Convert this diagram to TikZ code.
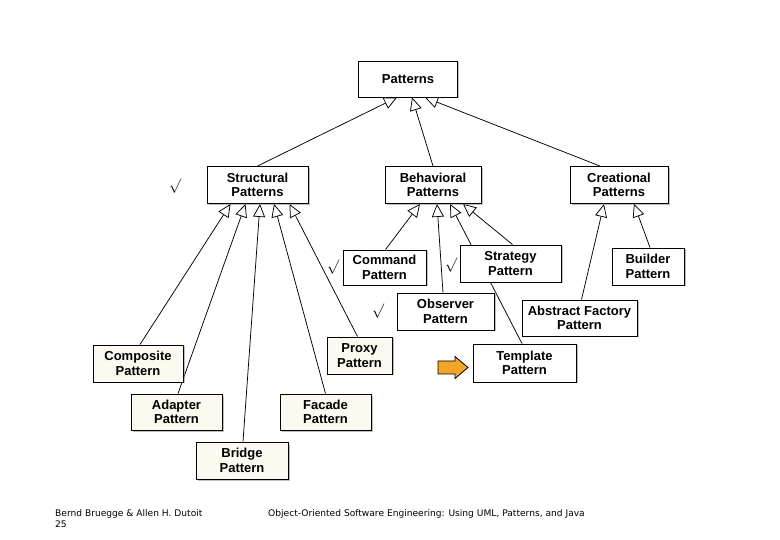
\documentclass[tikz,border=0pt]{standalone}
\usepackage{fontspec}
\setmainfont{Liberation Sans}
\newfontfamily\footfont{DejaVu Sans}
\usetikzlibrary{arrows.meta,shadows}
\definecolor{cream}{HTML}{FCF9F1}
\definecolor{hintorange}{HTML}{F2A527}
\pgfdeclarelayer{bg}
\pgfsetlayers{bg,main}
\tikzset{
    pbox/.style={draw, line width=0.9pt, fill=white, align=center, inner sep=0pt,
        font=\bfseries\fontsize{13}{14.5}\selectfont,
        drop shadow={shadow xshift=1.5pt, shadow yshift=-1.5pt, opacity=0.5}},
    cbox/.style={pbox, fill=cream},
    inh/.style={line width=0.75pt, -{Triangle[length=13pt, width=12pt, fill=white]}},
    tick/.style={font=\fontsize{14}{14}\selectfont}
}

\begin{document}
\begin{tikzpicture}[x=1pt, y=-1pt]
\useasboundingbox (0,0) rectangle (780,540);

% root and the three groups
\node[pbox, minimum width=99pt, minimum height=36pt] (pat) at (408,79) {Patterns};
\node[pbox, minimum width=101pt, minimum height=37pt] (struct) at (257.5,185) {Structural\\Patterns};
\node[pbox, minimum width=96pt, minimum height=37pt] (behav) at (433,185) {Behavioral\\Patterns};
\node[pbox, minimum width=98pt, minimum height=37pt] (creat) at (619,185) {Creational\\Patterns};

% behavioral and creational patterns
\node[pbox, minimum width=83pt, minimum height=35pt] (command) at (384.5,267.5) {Command\\Pattern};
\node[pbox, minimum width=101pt, minimum height=37pt] (strategy) at (510.5,263.5) {Strategy\\Pattern};
\node[pbox, minimum width=97pt, minimum height=37pt] (observer) at (445.5,311.5) {Observer\\Pattern};
\node[pbox, minimum width=103pt, minimum height=38pt] (template) at (524.5,363) {Template\\Pattern};
\node[pbox, minimum width=72pt, minimum height=37pt] (builder) at (648,266.5) {Builder\\Pattern};
\node[pbox, minimum width=115pt, minimum height=36pt] (absfact) at (579.5,318) {Abstract Factory\\Pattern};

% structural patterns
\node[cbox, minimum width=90pt, minimum height=37pt] (composite) at (138,363.5) {Composite\\Pattern};
\node[cbox, minimum width=91pt, minimum height=36pt] (adapter) at (176.5,412) {Adapter\\Pattern};
\node[cbox, minimum width=92pt, minimum height=37pt] (bridge) at (242,460.5) {Bridge\\Pattern};
\node[cbox, minimum width=91pt, minimum height=36pt] (facade) at (325.5,412) {Facade\\Pattern};
\node[cbox, minimum width=65pt, minimum height=37pt] (proxy) at (359.5,355.5) {Proxy\\Pattern};

\begin{pgfonlayer}{bg}
% to Patterns
\draw[inh] (struct.north) -- ([xshift=-11pt]pat.south);
\draw[inh] (behav.north) -- ([xshift=4pt]pat.south);
\draw[inh] ([xshift=-19pt]creat.north) -- ([xshift=17pt]pat.south);

% to Structural Patterns
\draw[inh] ([xshift=2pt]composite.north) -- ([xshift=-27pt]struct.south);
\draw[inh] ([xshift=1.5pt]adapter.north) -- ([xshift=-12pt]struct.south);
\draw[inh] ([xshift=1pt]bridge.north) -- ([xshift=2.5pt]struct.south);
\draw[inh] (facade.north) -- ([xshift=16.5pt]struct.south);
\draw[inh] ([xshift=-2pt]proxy.north) -- ([xshift=32pt]struct.south);

% to Behavioral Patterns
\draw[inh] ([xshift=1pt]command.north) -- ([xshift=-13pt]behav.south);
\draw[inh] ([xshift=-2.5pt]observer.north) -- ([xshift=4pt]behav.south);
\draw[inh] ([xshift=-2.5pt]template.north) -- ([xshift=17pt]behav.south);
\draw[inh] ([xshift=2pt]strategy.north) -- ([xshift=30pt]behav.south);

% to Creational Patterns
\draw[inh] ([xshift=2pt]absfact.north) -- ([xshift=-15pt]creat.south);
\draw[inh] ([xshift=2pt]builder.north) -- ([xshift=15pt]creat.south);
\end{pgfonlayer}

% ticks
\node[tick] (t1) at (175,186) {$\surd$};
\node[tick] (t2) at (333,267) {$\surd$};
\node[tick] (t3) at (451,265) {$\surd$};
\node[tick] (t4) at (378,311) {$\surd$};

% hint arrow
\draw[fill=hintorange, line width=0.8pt] (438,361) -- (455,361) -- (455,356.5) -- (468,367.5)
    -- (455,378.5) -- (455,374) -- (438,374) -- cycle;

% footer
\node[anchor=west, inner sep=0pt, font=\footfont\fontsize{9.1}{10}\selectfont] (auth) at (55,514) {Bernd Bruegge \& Allen H. Dutoit};
\node[anchor=west, inner sep=0pt, font=\footfont\fontsize{9.1}{10}\selectfont] (page) at (55,524) {25};
\node[anchor=west, inner sep=0pt, font=\footfont\fontsize{9.1}{10}\selectfont] (book) at (268,514) {Object-Oriented Software Engineering: Using UML, Patterns, and Java};
\end{tikzpicture}
\end{document}
